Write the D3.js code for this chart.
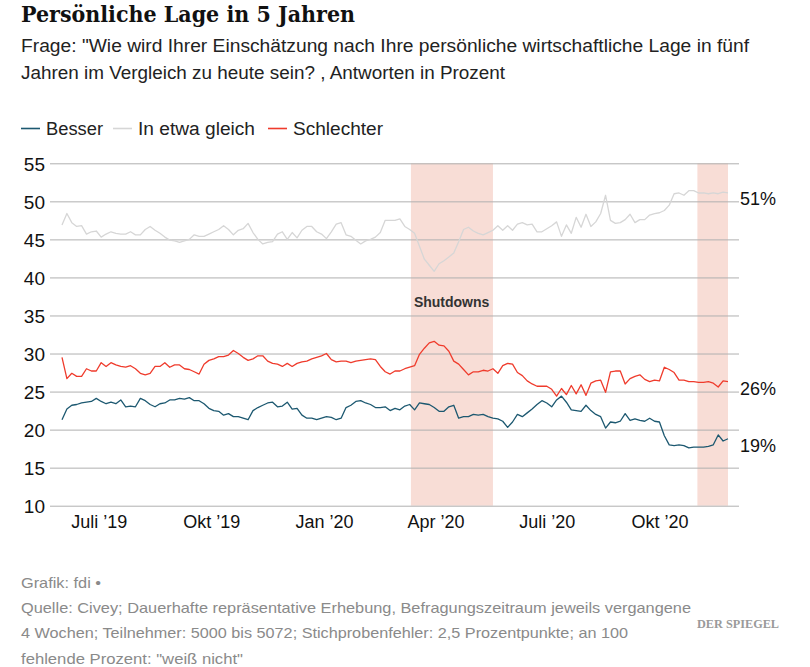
<!DOCTYPE html>
<html><head><meta charset="utf-8">
<script src="https://cdn.jsdelivr.net/npm/d3@7"></script>
<style>body{margin:0;background:#fff}svg{display:block}</style>
</head><body>
<svg id="chart" width="810" height="667"></svg>
<script>
const title = "Persönliche Lage in 5 Jahren";
const subtitle = [
  "Frage: \"Wie wird Ihrer Einschätzung nach Ihre persönliche wirtschaftliche Lage in fünf",
  "Jahren im Vergleich zu heute sein? , Antworten in Prozent"
];
const seriesNames = ["Besser", "In etwa gleich", "Schlechter"];
const seriesColors = ["#1c5870", "#d6d6d6", "#ef3b2c"];

// daily survey, sampled every 4 days starting 1 June 2019
const startDate = "2019-06-01";
const stepDays = 4;

const gleich = [
  46.9, 48.4, 47.2, 46.7, 46.8, 45.7, 46.0, 46.1, 45.3, 45.7,
  46.0, 45.8, 45.7, 45.7, 46.0, 45.6, 45.6, 46.3, 46.7, 46.2,
  45.8, 45.3, 44.9, 44.8, 44.6, 44.8, 45.0, 45.6, 45.4, 45.4,
  45.7, 46.0, 46.3, 46.8, 46.3, 45.6, 46.2, 46.4, 47.1, 45.9,
  45.0, 44.4, 44.6, 44.7, 45.7, 46.0,
  45.0, 45.9, 45.2, 46.2, 46.7, 46.7, 46.0, 45.7, 45.1, 46.0,
  47.0, 47.2, 45.6, 45.4, 44.9, 44.4, 44.8, 45.0, 45.3, 45.9,
  47.5, 47.5, 47.5, 47.7, 46.7, 46.3, 45.8, 44.1, 42.4, 41.6,
  40.8, 41.8, 42.2, 42.7, 43.2, 44.7, 46.3, 46.6, 46.1, 45.8,
  45.6, 45.9, 46.2, 46.8, 46.2, 46.8,
  46.2, 47.0, 47.2, 46.9, 47.0, 46.0, 46.0, 46.4, 46.8, 47.3,
  45.4, 46.9, 45.8, 47.9, 46.6, 48.3, 46.7, 47.3, 48.4, 50.8,
  47.5, 47.1, 47.2, 47.6, 48.3, 47.2, 47.6, 47.6, 48.2, 48.4,
  48.5, 48.8, 49.5, 51.0, 51.1, 50.8, 51.4, 51.4, 51.1, 51.1,
  51.0, 51.1, 51.0, 51.2, 51.1
];
const schlechter = [
  29.5, 26.7, 27.4, 27.0, 27.0, 28.0, 27.7, 27.7, 28.8, 28.3,
  28.8, 28.5, 28.3, 28.2, 28.4, 28.0, 27.4, 27.2, 27.4, 28.3,
  28.3, 28.8, 28.2, 28.5, 28.5, 28.0, 27.9, 27.6, 27.3, 28.6,
  29.1, 29.3, 29.6, 29.6, 29.8, 30.4, 30.0, 29.5, 29.1, 29.3,
  29.7, 29.7, 29.0, 28.7, 28.6, 28.3,
  28.7, 28.3, 28.7, 28.9, 29.0, 29.3, 29.5, 29.7, 30.0, 29.2,
  28.9, 29.0, 29.0, 28.8, 29.0, 29.1, 29.2, 29.3, 29.2, 28.3,
  27.6, 27.3, 27.7, 27.7, 28.0, 28.2, 28.4, 29.9, 30.7, 31.4,
  31.6, 31.1, 31.0, 30.3, 29.0, 28.6, 27.9, 27.2, 27.6, 27.6,
  27.8, 27.7, 28.0, 27.4, 28.4, 28.7,
  28.6, 27.5, 27.1, 26.4, 26.0, 25.7, 25.7, 25.7, 25.3, 24.4,
  25.4, 24.6, 25.8, 24.7, 25.9, 24.5, 26.1, 26.4, 26.5, 24.9,
  27.6, 27.7, 27.7, 26.0, 26.7, 27.0, 27.2, 26.6, 26.3, 26.5,
  26.4, 28.2, 27.9, 27.5, 26.5, 26.5, 26.3, 26.3, 26.2, 26.2,
  26.3, 26.1, 25.6, 26.4, 26.3
];
const besser = [
  21.3, 22.7, 23.2, 23.3, 23.5, 23.6, 23.7, 24.1, 23.7, 23.4,
  23.6, 23.4, 23.9, 23.0, 23.1, 23.0, 24.1, 23.8, 23.3, 23.0,
  23.4, 23.5, 23.9, 23.9, 24.1, 24.0, 24.2, 23.8, 23.8, 23.4,
  22.8, 22.5, 22.4, 21.9, 22.1, 21.7, 21.7, 21.5, 21.3, 22.5,
  22.9, 23.2, 23.5, 23.6, 23.0, 23.1,
  23.6, 22.7, 22.8, 21.9, 21.5, 21.5, 21.3, 21.5, 21.7, 21.6,
  21.3, 21.5, 22.9, 23.2, 23.7, 23.8, 23.5, 23.3, 22.9, 22.9,
  23.0, 22.5, 22.8, 22.6, 23.1, 23.3, 22.6, 23.5, 23.4, 23.3,
  22.9, 22.4, 22.4, 23.0, 23.2, 21.5, 21.7, 21.7, 22.0, 21.9,
  22.0, 21.7, 21.5, 21.4, 21.1, 20.3,
  21.0, 22.0, 21.7, 22.2, 22.7, 23.3, 23.8, 23.5, 23.0, 23.9,
  24.4, 23.6, 22.6, 22.5, 22.4, 23.2, 22.5, 22.0, 21.7, 20.2,
  21.0, 20.9, 21.1, 22.1, 21.2, 21.4, 21.2, 21.1, 21.5, 21.1,
  21.0, 19.2, 18.0, 17.9, 18.0, 17.9, 17.6, 17.7, 17.7, 17.7,
  17.8, 18.0, 19.3, 18.5, 18.8
];

const yTicks = [10, 15, 20, 25, 30, 35, 40, 45, 50, 55];
const xTickDates = ["2019-07-01", "2019-10-01", "2020-01-01", "2020-04-01", "2020-07-01", "2020-10-01"];
const xTickLabels = ["Juli ’19", "Okt ’19", "Jan ’20", "Apr ’20", "Juli ’20", "Okt ’20"];
const shutdownStarts = ["2020-03-12", "2020-11-01"];
const shutdownEnds = ["2020-05-18", "2020-11-26"];
const shutdownLabel = "Shutdowns";
const endLabels = ["51%", "26%", "19%"];
const endLabelValues = [51, 26, 19];
const footer = [
  "Grafik: fdi •",
  "Quelle: Civey; Dauerhafte repräsentative Erhebung, Befragungszeitraum jeweils vergangene",
  "4 Wochen; Teilnehmer: 5000 bis 5072; Stichprobenfehler: 2,5 Prozentpunkte; an 100",
  "fehlende Prozent: \"weiß nicht\""
];

const parse = d3.utcParse("%Y-%m-%d");
const start = parse(startDate);
const dates = gleich.map((_, i) => d3.utcDay.offset(start, i * stepDays));

const svg = d3.select("#chart");
const sans = "'Liberation Sans', Arial, Helvetica, sans-serif";

const x = d3.scaleUtc().domain([dates[0], dates[dates.length - 1]]).range([62, 728]);
const y = d3.scaleLinear().domain([10, 55]).range([505.7, 163.3]);
const gridLeft = 50, gridRight = 739;

// title & subtitle
svg.append("text").attr("x", 21).attr("y", 22)
  .attr("font-family", "'DejaVu Serif', 'Liberation Serif', serif")
  .attr("font-weight", "bold").attr("font-size", 23).attr("fill", "#111")
  .attr("textLength", 334).attr("lengthAdjust", "spacingAndGlyphs")
  .text(title);
const subLens = [728, 484];
subtitle.forEach((s, i) => {
  svg.append("text").attr("x", 21).attr("y", 52 + i * 26.5)
    .attr("font-family", sans).attr("font-size", 17.5).attr("fill", "#222")
    .attr("textLength", subLens[i]).attr("lengthAdjust", "spacingAndGlyphs")
    .text(s);
});

// legend
const legendX = [21, 113, 268];
const legendLens = [57, 117, 90];
seriesNames.forEach((n, i) => {
  svg.append("line").attr("x1", legendX[i]).attr("x2", legendX[i] + 19)
    .attr("y1", 128.5).attr("y2", 128.5)
    .attr("stroke", seriesColors[i]).attr("stroke-width", 1.6);
  svg.append("text").attr("x", legendX[i] + 25).attr("y", 135)
    .attr("font-family", sans).attr("font-size", 18).attr("fill", "#222")
    .attr("textLength", legendLens[i]).attr("lengthAdjust", "spacingAndGlyphs")
    .text(n);
});

// shutdown bands
shutdownStarts.forEach((s, i) => {
  const x0 = x(parse(s)), x1 = x(parse(shutdownEnds[i]));
  svg.append("rect").attr("x", x0).attr("width", x1 - x0)
    .attr("y", y(55)).attr("height", y(10) - y(55))
    .attr("fill", "#f8ddd6");
});
svg.append("text").attr("x", x(parse(shutdownStarts[0])) + 3).attr("y", 307)
  .attr("font-family", sans).attr("font-weight", "bold").attr("font-size", 14)
  .attr("fill", "#333").text(shutdownLabel);

// grid + y labels
const yAxis = d3.axisLeft(y).tickValues(yTicks).tickSize(-(gridRight - gridLeft)).tickPadding(6);
const gy = svg.append("g").attr("transform", `translate(${gridLeft},0)`).call(yAxis);
gy.select(".domain").remove();
gy.selectAll(".tick line").attr("stroke", "#b0b0b0").attr("stroke-width", 1);
gy.selectAll(".tick text").attr("font-family", sans).attr("font-size", 19)
  .attr("fill", "#111").attr("x", -5).attr("dy", "0.36em");

// x labels
const xAxis = d3.axisBottom(x).tickValues(xTickDates.map(parse))
  .tickFormat((d, i) => xTickLabels[i]).tickSize(0).tickPadding(0);
const gx = svg.append("g").attr("transform", "translate(0,515)").call(xAxis);
gx.select(".domain").remove();
gx.selectAll(".tick text").attr("font-family", sans).attr("font-size", 18)
  .attr("fill", "#111").attr("dy", "0.72em");

// lines
const series = [gleich, schlechter, besser];
const colorIdx = [1, 2, 0];
const line = d3.line().x((d, i) => x(dates[i])).y(d => y(d));
series.forEach((s, j) => {
  svg.append("path").datum(s).attr("d", line)
    .attr("fill", "none").attr("stroke", seriesColors[colorIdx[j]])
    .attr("stroke-width", 1.3).attr("stroke-linejoin", "round");
});

// end labels
const labelNudge = [0, 0, 4];
endLabels.forEach((t, i) => {
  svg.append("text").attr("x", 740).attr("y", y(endLabelValues[i]) + 11 + labelNudge[i])
    .attr("font-family", sans).attr("font-size", 18).attr("fill", "#111").text(t);
});

// footer
const footLens = [80, 670, 607, 222];
footer.forEach((f, i) => {
  svg.append("text").attr("x", 21).attr("y", 588 + i * 25.2)
    .attr("font-family", sans).attr("font-size", 15).attr("fill", "#8a8a8a")
    .attr("textLength", footLens[i]).attr("lengthAdjust", "spacingAndGlyphs")
    .text(f);
});
svg.append("text").attr("x", 697).attr("y", 628)
  .attr("font-family", "'Liberation Serif', serif").attr("font-weight", "bold")
  .attr("font-size", 12).attr("fill", "#9a9a9a")
  .attr("textLength", 82).attr("lengthAdjust", "spacingAndGlyphs")
  .text("DER SPIEGEL");
</script>
</body></html>
